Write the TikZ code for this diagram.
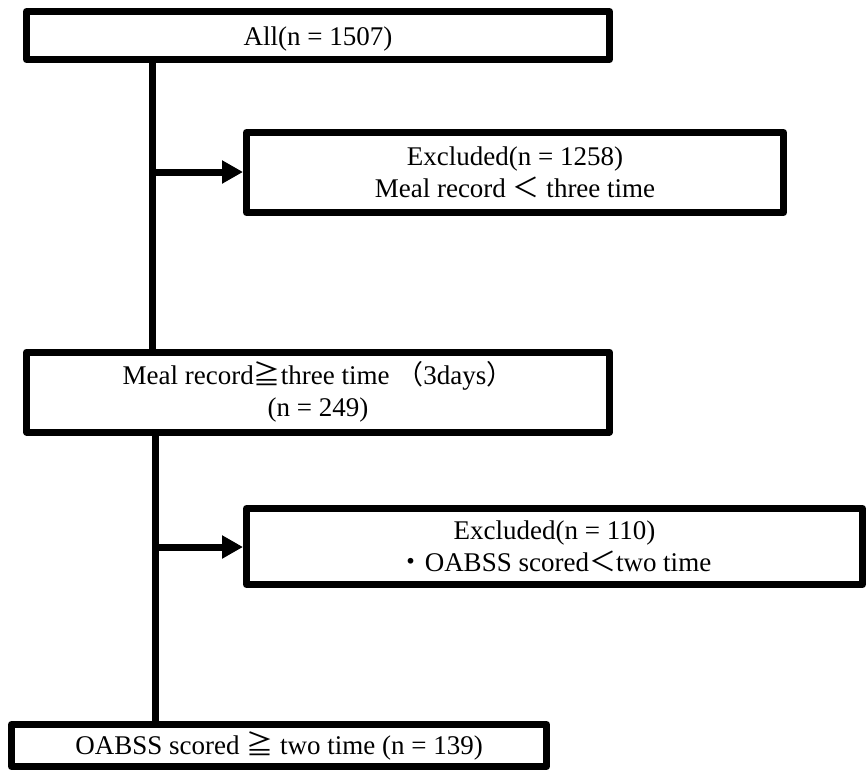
\documentclass[tikz,border=0pt]{standalone}
\usepackage{fontspec}
\setmainfont{Liberation Serif}
\newfontfamily\cjk{Noto Sans CJK JP}
\usepackage{tikz}
\usetikzlibrary{arrows.meta}
\tikzset{
  flowBox/.style={draw=black, line width=7pt, line join=round, fill=white, align=center,
    inner sep=0pt, font=\fontsize{27}{32}\selectfont},
  flowLine/.style={line width=7pt, draw=black},
  flowArrow/.style={flowLine, -{Triangle[length=21pt,width=22pt]}}
}

\begin{document}
\begin{tikzpicture}[x=1pt,y=-1pt]
  \useasboundingbox (0,0) rectangle (866,771);

  % Boxes
  \node[flowBox, minimum width=583pt, minimum height=48pt, text height=26pt, text depth=6pt]
    (all) at (318,35.5) {All(n = 1507)};
  \node[flowBox, minimum width=537pt, minimum height=80pt] (excl1) at (515,172.5)
    {Excluded(n = 1258)\\Meal record {\cjk ＜} three time};
  \node[flowBox, minimum width=583pt, minimum height=80pt] (meal) at (318,392)
    {Meal record{\cjk ≧}three time {\cjk （}3days{\cjk ）}\\(n = 249)};
  \node[flowBox, minimum width=616pt, minimum height=76pt] (excl2) at (554.5,546.5)
    {Excluded(n = 110)\\{\cjk ・}OABSS scored{\cjk ＜}two time};
  \node[flowBox, minimum width=535pt, minimum height=42pt] (oabss) at (279,745.5)
    {OABSS scored {\cjk ≧} two time (n = 139)};

  % Connectors
  \coordinate (j1) at (152,172);
  \coordinate (j2) at (155,547);
  \draw[flowLine] (all.south -| j1) -- (meal.north -| j1);
  \draw[flowArrow] (j1) -- (j1 -| excl1.west);
  \draw[flowLine] (meal.south -| j2) -- (oabss.north -| j2);
  \draw[flowArrow] (j2) -- (j2 -| excl2.west);
\end{tikzpicture}
\end{document}
